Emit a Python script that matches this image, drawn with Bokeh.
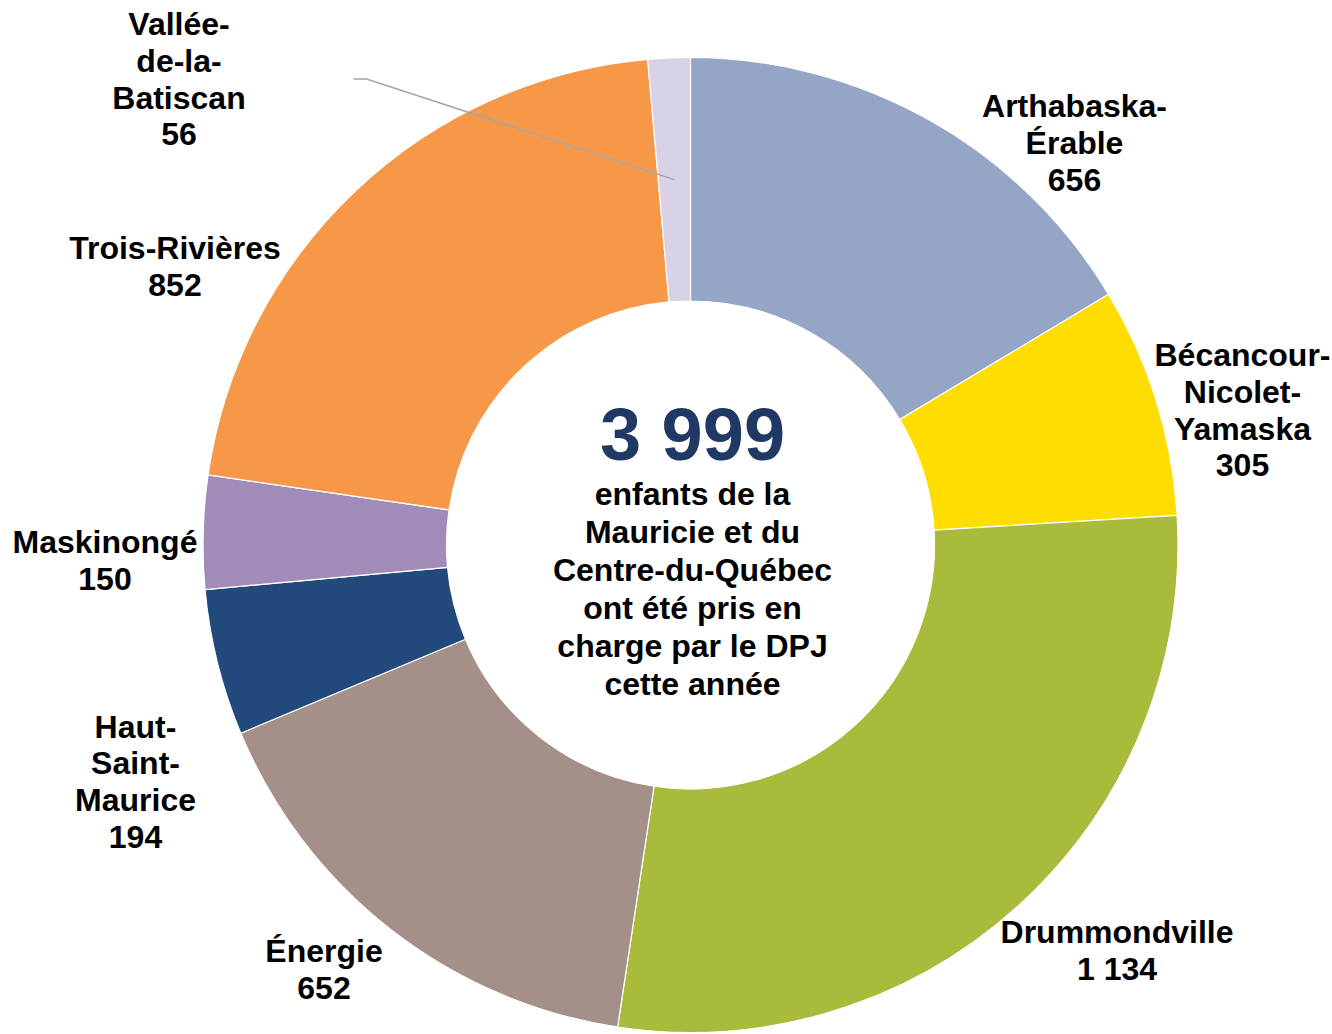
import math
from bokeh.plotting import figure
from bokeh.models import Range1d, ColumnDataSource
from bokeh.core.properties import value
from bokeh.embed import file_html
from bokeh.resources import INLINE

# ---------------- data ----------------
regions = [
    "Arthabaska-\nÉrable",
    "Bécancour-\nNicolet-\nYamaska",
    "Drummondville",
    "Énergie",
    "Haut-\nSaint-\nMaurice",
    "Maskinongé",
    "Trois-Rivières",
    "Vallée-\nde-la-\nBatiscan",
]
counts = [656, 305, 1134, 652, 194, 150, 852, 56]
colors = ["#94A5C6", "#FFDD00", "#AABA3A", "#A49089",
          "#21497C", "#A18CB9", "#F79748", "#D9D1E5"]
center_lines = ["enfants de la", "Mauricie et du", "Centre-du-Québec",
                "ont été pris en", "charge par le DPJ", "cette année"]

# ---------------- layout ----------------
W, H = 1332, 1034


def Y(py):
    return H - py


CX, CY = 690, Y(544.5)
R_OUT, R_IN = 487.5, 244
FONT = value("Liberation Sans")
LABEL_PX = 32
LINE_STEP = 36.6
BASE_K = 0.35  # baseline correction (fraction of font size)
# anchor (x, first baseline in picture px) for each label
label_anchor = [(1074, 117), (1242, 366), (1116.5, 943), (323.5, 962),
                (135, 737.5), (104.5, 553), (174.5, 259), (178.5, 35)]


def fmt(v):
    return f"{v:,}".replace(",", " ")


total = sum(counts)
starts, ends, mids = [], [], []
cum = 0
for c in counts:
    a0 = math.pi / 2 - 2 * math.pi * cum / total
    cum += c
    a1 = math.pi / 2 - 2 * math.pi * cum / total
    starts.append(a0)
    ends.append(a1)
    mids.append((a0 + a1) / 2)

p = figure(width=W, height=H, output_backend="svg", toolbar_location=None,
           x_range=Range1d(0, W), y_range=Range1d(0, H),
           min_border=0)
p.axis.visible = False
p.grid.visible = False
p.outline_line_color = None
p.background_fill_color = "white"
p.border_fill_color = "white"

src = ColumnDataSource(dict(start=starts, end=ends, color=colors))
p.annular_wedge(x=CX, y=CY, inner_radius=R_IN, outer_radius=R_OUT,
                start_angle="start", end_angle="end", direction="clock",
                fill_color="color", line_color="white", line_width=1.2,
                source=src)

# leader line for the small slice (Vallée-de-la-Batiscan)
rm = (R_IN + R_OUT) / 2
ex = CX + rm * math.cos(mids[7])
ey = CY + rm * math.sin(mids[7])
p.line(x=[353, 366, ex], y=[Y(78.5), Y(78.5), ey], line_color="#A6A6A6",
       line_width=1.5)

# labels
lx, ly, lt = [], [], []
for name, v, (ax, ay) in zip(regions, counts, label_anchor):
    lines = name.split("\n") + [fmt(v)]
    for i, t in enumerate(lines):
        lx.append(ax)
        ly.append(Y(ay + i * LINE_STEP - BASE_K * LABEL_PX))
        lt.append(t)
p.text(x=lx, y=ly, text=lt, text_font=FONT, text_font_style="bold",
       text_font_size=f"{LABEL_PX}px", text_align="center",
       text_baseline="alphabetic", text_color="black")

# center text
p.text(x=[692], y=[Y(460 - BASE_K * 74)], text=[fmt(total)], text_font=FONT,
       text_font_style="bold", text_font_size="74px", text_align="center",
       text_baseline="alphabetic", text_color="#1F3864")
cy_lines = [Y(505 + i * 38 - BASE_K * 32) for i in range(len(center_lines))]
p.text(x=[692] * len(center_lines), y=cy_lines, text=center_lines,
       text_font=FONT, text_font_style="bold", text_font_size="32px",
       text_align="center", text_baseline="alphabetic", text_color="black")

open("out.html", "w").write(file_html(p, INLINE))
